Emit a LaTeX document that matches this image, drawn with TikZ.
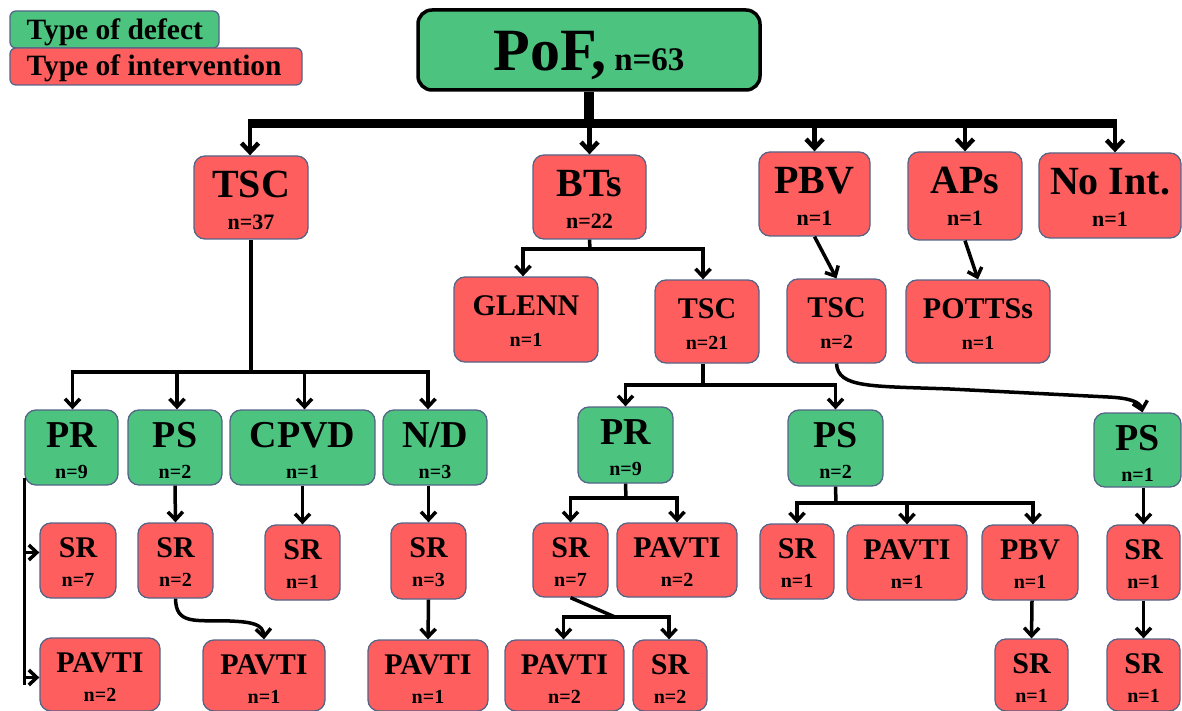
\documentclass[tikz,border=0pt]{standalone}
\usepackage{fontspec}
\setmainfont{Liberation Serif}
\usetikzlibrary{arrows.meta}
\definecolor{gfill}{RGB}{76,196,127}
\definecolor{rfill}{RGB}{255,94,94}
\definecolor{bcol}{RGB}{85,100,135}
\newcommand\mysetlev[4]{\def\bigsz{#1}\def\smsz{#2}\def\offa{#3}\def\offb{#4}}
\newcommand\mybox[8]{%
  \node[#2, minimum width={#5-#3}, minimum height={#6-#4}] (#1) at ({(#3+#5)/2},{(#4+#6)/2}) {};
  \node[txt, font=\fontsize{\bigsz}{\bigsz}\selectfont\bfseries] (#1-a) at ([yshift=-\offa pt]#1.north) {#7};
  \node[txt, font=\fontsize{\smsz}{\smsz}\selectfont\bfseries] (#1-b) at ([yshift=-\offb pt]#1.north) {#8};
}
\tikzset{
  box/.style={rectangle, rounded corners=11pt, draw=bcol, line width=1.3pt, inner sep=0pt},
  rbox/.style={box, fill=rfill},
  gbox/.style={box, fill=gfill},
  txt/.style={anchor=base, inner sep=0pt},
  conn/.style={line width=3.5pt, draw=black},
  arr/.style={conn, -{Straight Barb[length=8pt,width=15pt]}},
  arrT/.style={line width=4.5pt, draw=black, -{Straight Barb[length=9pt,width=17pt]}},
  bar/.style={line width=9pt, draw=black},
}
\begin{document}
\begin{tikzpicture}[x=1pt,y=-1pt]
\useasboundingbox (0,0) rectangle (1182,711);
\fill[white] (0,0) rectangle (1182,711);

% legend
\node[gbox, rounded corners=6pt, minimum width=209, minimum height=37] (legd) at (114.5,29.5) {};
\node[txt, anchor=base west, font=\fontsize{29.5}{29.5}\selectfont\bfseries] (legd-t) at ([xshift=17pt,yshift=-29pt]legd.north west) {Type of defect};
\node[rbox, rounded corners=6pt, minimum width=292, minimum height=37] (legi) at (156,66.5) {};
\node[txt, anchor=base west, font=\fontsize{29.5}{29.5}\selectfont\bfseries] (legi-t) at ([xshift=17pt,yshift=-28pt]legi.north west) {Type of intervention};

% root
\node[gbox, draw=black, line width=3.5pt, rounded corners=14pt, minimum width=342, minimum height=80] (root) at (589,50) {};
\node[txt] (root-t) at ([yshift=-62pt]root.north) {\fontsize{60}{60}\selectfont\bfseries PoF,\hspace{8pt}\fontsize{33}{33}\selectfont n=63};

% level 1
\mysetlev{40}{22}{42}{74}
\mybox{tsc37}{rbox}{194}{156}{308}{239}{TSC}{n=37}
\mybox{bts}{rbox}{533}{155}{646}{239}{BTs}{n=22}
\mybox{pbv}{rbox}{759}{152}{870}{236}{PBV}{n=1}
\mybox{aps}{rbox}{908}{152}{1022}{240}{APs}{n=1}
\mybox{noint}{rbox}{1039}{153}{1181}{238}{No Int.}{n=1}

% level 2
\mysetlev{30}{20}{39}{70}
\mybox{glenn}{rbox}{454}{277}{598}{362}{GLENN}{n=1}
\mybox{tsc21}{rbox}{655}{280}{759}{363}{TSC}{n=21}
\mybox{tsc2}{rbox}{787}{279}{886}{363}{TSC}{n=2}
\mybox{pottss}{rbox}{906}{280}{1050}{363}{POTTSs}{n=1}

% defects
\mysetlev{38}{20}{38}{69}
\mybox{pr9l}{gbox}{25}{410}{118}{485}{PR}{n=9}
\mybox{ps2l}{gbox}{128}{410}{222}{485}{PS}{n=2}
\mybox{cpvd}{gbox}{230}{410}{375}{485}{CPVD}{n=1}
\mybox{nd}{gbox}{383}{410}{487}{485}{N/D}{n=3}
\mybox{pr9m}{gbox}{578}{407}{673}{483}{PR}{n=9}
\mybox{ps2m}{gbox}{788}{410}{883}{486}{PS}{n=2}
\mybox{ps1r}{gbox}{1094}{413}{1181}{487}{PS}{n=1}

% lower interventions
\mysetlev{30}{20}{35}{64}
\mybox{sr7l}{rbox}{40}{523}{116}{598}{SR}{n=7}
\mybox{sr2l}{rbox}{138}{523}{213}{598}{SR}{n=2}
\mybox{sr1c}{rbox}{265}{525}{340}{600}{SR}{n=1}
\mybox{sr3}{rbox}{391}{523}{466}{599}{SR}{n=3}
\mybox{sr7m}{rbox}{533}{523}{608}{597}{SR}{n=7}
\mybox{pavti2m}{rbox}{617}{523}{737}{597}{PAVTI}{n=2}
\mybox{sr1m}{rbox}{760}{524}{834}{599}{SR}{n=1}
\mybox{pavti1m}{rbox}{847}{525}{967}{600}{PAVTI}{n=1}
\mybox{pbv1m}{rbox}{982}{525}{1078}{600}{PBV}{n=1}
\mybox{sr1r}{rbox}{1107}{525}{1180}{600}{SR}{n=1}
\mybox{pavti2l}{rbox}{40}{638}{160}{711}{PAVTI}{n=2}
\mybox{pavti1l}{rbox}{203}{640}{325}{711}{PAVTI}{n=1}
\mybox{pavti1nd}{rbox}{368}{640}{488}{711}{PAVTI}{n=1}
\mybox{pavti2b}{rbox}{505}{640}{624}{711}{PAVTI}{n=2}
\mybox{sr2b}{rbox}{633}{640}{707}{711}{SR}{n=2}
\mybox{sr1pbv}{rbox}{995}{639}{1068}{711}{SR}{n=1}
\mybox{sr1rb}{rbox}{1107}{639}{1180}{711}{SR}{n=1}

% top bar
\coordinate (barL) at (248,124);
\coordinate (barR) at (1117,124);
\draw[line width=10pt] (root.south) -- (root.south |- barL);
\draw[bar] (barL) -- (barR);
\draw[arrT] ([xshift=-1pt]tsc37.north |- barL) -- ([xshift=-1pt]tsc37.north);
\draw[arrT] (bts.north |- barL) -- (bts.north);
\draw[arrT] (pbv.north |- barL) -- (pbv.north);
\draw[arrT] (aps.north |- barL) -- (aps.north);
\draw[arrT] ([xshift=5pt]noint.north |- barL) -- ([xshift=5pt]noint.north);

% TSC n=37 branch
\coordinate (j1) at (251,372);
\draw[conn] (tsc37.south) -- (j1);
\draw[arr] (j1) -| ([xshift=1pt]pr9l.north);
\draw[arr] (j1) -| ([xshift=2pt]ps2l.north);
\draw[arr] (j1) -| ([xshift=2pt]cpvd.north);
\draw[arr] (j1) -| ([xshift=-7pt]nd.north);

% PR rail
\coordinate (rail) at ([yshift=8pt]pr9l.south west);
\draw[conn] (rail) -- ([yshift=-10pt]rail |- pavti2l.west);
\draw[arr] (rail |- sr7l.west) ++(0,-8) -- ([yshift=8pt]sr7l.west);
\draw[arr] ([yshift=-3pt]rail |- pavti2l.west) -- ([yshift=-3pt]pavti2l.west);

\draw[arr] (ps2l.south) -- (sr2l.north);
\draw[arr] (sr2l.south) .. controls (176,625) and (195,620) .. (230,621) .. controls (252,622) and (263,624) .. (pavti1l.north);
\draw[arr] (cpvd.south) -- (sr1c.north);
\draw[arr] (sr3.north |- nd.south) -- (sr3.north);
\draw[arr] (sr3.south) -- (pavti1nd.north);

% BTs branch
\coordinate (j2) at (590,249);
\draw[conn] (bts.south) -- (j2);
\draw[arr] (j2) -| ([xshift=-3pt]glenn.north);
\draw[arr] (j2) -| ([xshift=-4pt]tsc21.north);

\coordinate (j3) at (703,385);
\draw[conn] ([xshift=-4pt]tsc21.south) -- (j3);
\draw[arr] (j3) -| (pr9m.north);
\draw[arr] (j3) -| (ps2m.north);

\coordinate (j4) at (626,498);
\draw[conn] (pr9m.south) -- (j4);
\draw[arr] (j4) -| (sr7m.north);
\draw[arr] (j4) -| (pavti2m.north);

\coordinate (j5) at (615,617);
\draw[conn] (sr7m.south) -- (j5);
\draw[arr] (j5) -| ([xshift=-1pt]pavti2b.north);
\draw[arr] (j5) -| ([xshift=-1pt]sr2b.north);

\coordinate (j6) at (836,503);
\draw[conn] (ps2m.south) -- (j6);
\draw[arr] (j6) -| (sr1m.north);
\draw[arr] (j6) -| (pavti1m.north);
\draw[arr] (j6) -| ([xshift=3pt]pbv1m.north);
\draw[arr] ([xshift=2pt]pbv1m.south) -- (sr1pbv.north);

% right column
\draw[arr] (pbv.south) -- (tsc2.north);
\draw[arr] (aps.south) -- (pottss.north);
\draw[arr] (tsc2.south) .. controls (838,388) and (870,386) .. (950,389) -- (1108,397) .. controls (1130,398) and (1140,402) .. ([xshift=5pt]ps1r.north);
\draw[arr] (sr1r.north |- ps1r.south) -- (sr1r.north);
\draw[arr] (sr1r.south) -- (sr1rb.north);
\end{tikzpicture}
\end{document}
